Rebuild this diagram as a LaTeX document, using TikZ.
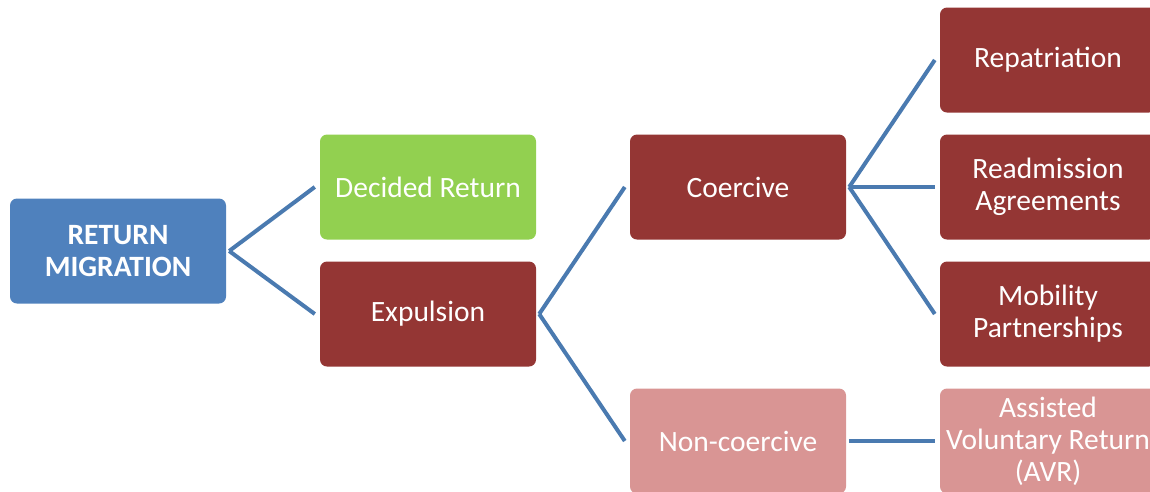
\documentclass[tikz,border=0pt]{standalone}
\usepackage{fontspec}
\setmainfont{Carlito}
\definecolor{rmblue}{HTML}{4F81BD}
\definecolor{rmgreen}{HTML}{92D050}
\definecolor{rmred}{HTML}{943634}
\definecolor{rmpink}{HTML}{D99594}
\definecolor{rmline}{HTML}{4A7AB0}
\begin{document}
\begin{tikzpicture}[x=1pt,y=-1pt]
\tikzstyle{link}= [draw=rmline,line width=4pt]
\tikzstyle{box}= [rectangle,rounded corners=7pt,minimum width=216pt,minimum height=105pt,
	text=white,align=center,font=\fontsize{29.5}{32}\selectfont]
\useasboundingbox (0,0) rectangle (1150,491);
\path
	( 118,251) node[box,fill=rmblue,font=\fontsize{29.5}{32}\selectfont\bfseries] (rm) {RETURN\\MIGRATION}
	( 428,187) node[box,fill=rmgreen] (dr) {Decided Return}
	( 428,314) node[box,fill=rmred] (ex) {Expulsion}
	( 738,187) node[box,fill=rmred] (co) {Coercive}
	( 738,441) node[box,fill=rmpink] (nc) {Non-coercive}
	(1048, 60) node[box,fill=rmred] (rp) {Repatriation}
	(1048,187) node[box,fill=rmred] (ra) {Readmission\\Agreements}
	(1048,314) node[box,fill=rmred] (mp) {Mobility\\Partnerships}
	(1048,441) node[box,fill=rmpink] (av) {Assisted\\Voluntary Return\\(AVR)}
;
\draw[link] ([xshift=3pt]rm.east) -- ([xshift=-5pt]dr.west);
\draw[link] ([xshift=3pt]rm.east) -- ([xshift=-5pt]ex.west);
\draw[link] ([xshift=3pt]ex.east) -- ([xshift=-5pt]co.west);
\draw[link] ([xshift=3pt]ex.east) -- ([xshift=-5pt]nc.west);
\draw[link] ([xshift=3pt]co.east) -- ([xshift=-5pt]rp.west);
\draw[link] ([xshift=3pt]co.east) -- ([xshift=-5pt]ra.west);
\draw[link] ([xshift=3pt]co.east) -- ([xshift=-5pt]mp.west);
\draw[link] ([xshift=3pt]nc.east) -- ([xshift=-5pt]av.west);
\end{tikzpicture}
\end{document}
